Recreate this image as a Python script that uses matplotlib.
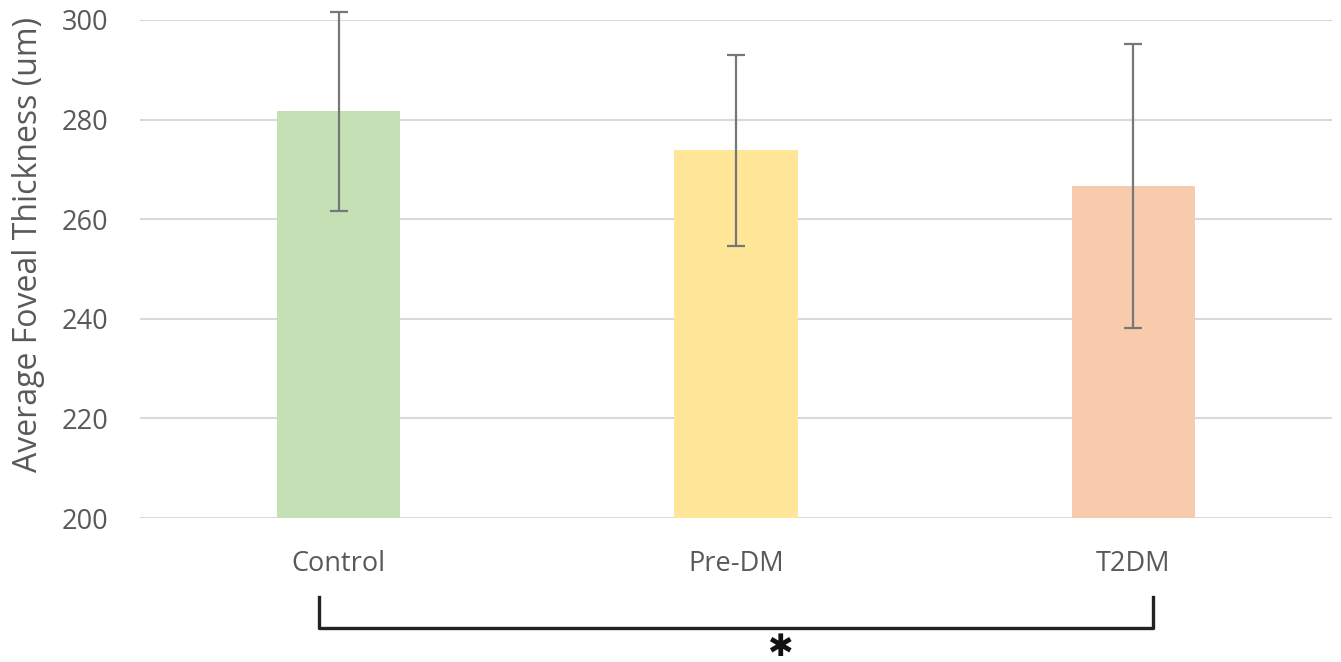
import matplotlib
matplotlib.use("Agg")
import matplotlib.pyplot as plt
import matplotlib.transforms as mtransforms

# ---------------------- data ----------------------
groups = ["Control", "Pre-DM", "T2DM"]
means = [281.7, 273.8, 266.6]
errors = [20.0, 19.2, 28.5]
bar_colors = ["#C5E0B4", "#FFE699", "#F8CBAD"]

plt.rcParams['font.family'] = ['Open Sans', 'DejaVu Sans']
text_color = "#595959"

fig = plt.figure(figsize=(13.41, 6.62), dpi=100)
ax = fig.add_axes([0.1044, 0.2175, 0.8889, 0.7523])

x = list(range(len(groups)))
ax.bar(x, [m - 200 for m in means], bottom=200, width=0.31, color=bar_colors, zorder=2)
eb = ax.errorbar(x, means, yerr=errors, fmt="none", ecolor="#777777",
                 elinewidth=1.6, capsize=6.5, capthick=1.6, zorder=3)
for artist in eb.lines[1] + eb.lines[2]:
    artist.set_clip_on(False)

ax.set_xlim(-0.5, 2.5)
ax.set_ylim(200, 300)
ax.set_yticks([200, 220, 240, 260, 280, 300])
ax.yaxis.grid(True, color="#d9d9d9", linewidth=1.5, zorder=0)
ax.set_axisbelow(True)
for s in ax.spines.values():
    s.set_visible(False)
ax.tick_params(axis="both", length=0, labelsize=19.5, colors=text_color)
ax.tick_params(axis="y", pad=23)
ax.tick_params(axis="x", pad=23)
ax.set_xticks(x)
ax.set_xticklabels(groups)
ax.set_ylabel("Average Foveal Thickness (um)", fontsize=23, color=text_color)
ax.yaxis.set_label_coords(-0.08, 0.55)

# significance bracket below the categories
trans = mtransforms.blended_transform_factory(ax.transData, ax.transAxes)
ax.plot([-0.05, -0.05, 2.05, 2.05], [-0.159, -0.221, -0.221, -0.159],
        transform=trans, clip_on=False, color="#222222", linewidth=2.4,
        solid_joinstyle="round")
ax.text(1.11, -0.259, "\u2731", transform=trans, ha="center", va="center",
        fontsize=22, color="#111111", family="DejaVu Sans")

fig.savefig("out.png", dpi=100)
